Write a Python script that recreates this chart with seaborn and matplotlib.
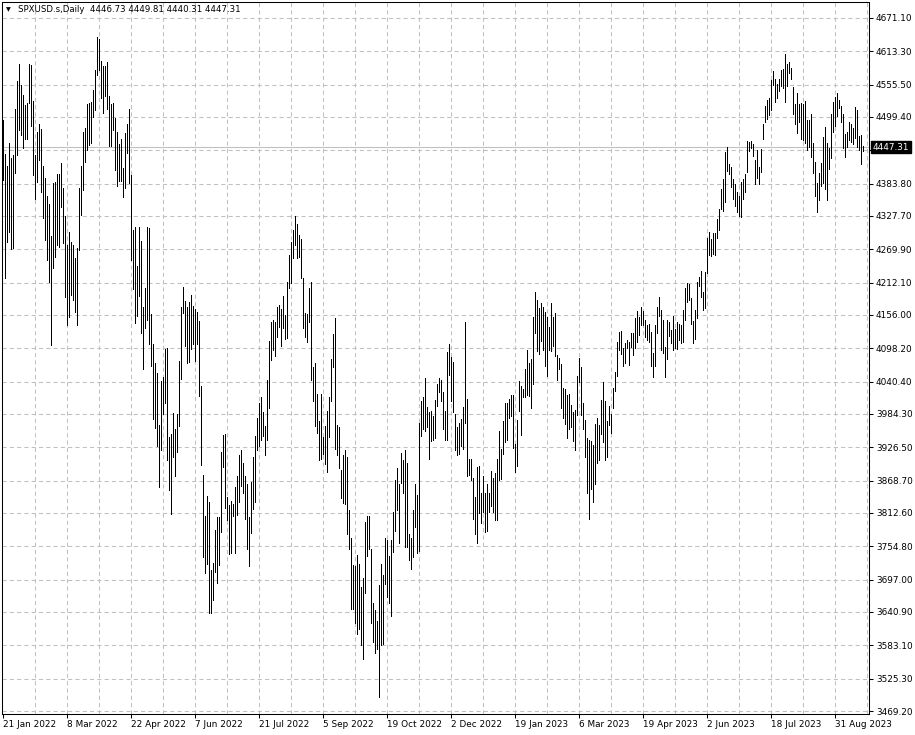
import matplotlib
matplotlib.use("Agg")
import matplotlib.pyplot as plt
import matplotlib.transforms as mtransforms
import seaborn as sns
import numpy as np

# header of the chart window
symbol = "SPXUSD.s,Daily"
last_ohlc = [4446.73, 4449.81, 4440.31, 4447.31]

# daily bar highs / lows (one per trading day)
highs = [
    4495, 4435, 4414, 4454, 4428, 4433, 4514, 4561, 4592, 4555, 4538, 4520, 4523, 4591, 4589, 4527,
    4433, 4474, 4488, 4479, 4414, 4393, 4362, 4348, 4293, 4385, 4387, 4401, 4401, 4419, 4376, 4327,
    4277, 4300, 4283, 4277, 4254, 4272, 4376, 4414, 4473, 4480, 4522, 4523, 4526, 4546, 4581, 4638,
    4634, 4597, 4588, 4588, 4594, 4535, 4522, 4524, 4497, 4473, 4453, 4461, 4411, 4472, 4487, 4513,
    4398, 4303, 4309, 4241, 4309, 4285, 4170, 4202, 4309, 4307, 4158, 4105, 4072, 4056, 3966, 4041,
    4048, 4097, 4099, 3944, 3950, 3986, 3958, 3984, 4076, 4170, 4204, 4181, 4169, 4179, 4190, 4171,
    4167, 4162, 4146, 4032, 3878, 3807, 3842, 3832, 3713, 3726, 3783, 3806, 3806, 3919, 3948, 3950,
    3841, 3826, 3834, 3828, 3857, 3876, 3913, 3921, 3900, 3877, 3863, 3806, 3867, 3909, 3946, 3977,
    4004, 4014, 3988, 3963, 4043, 4111, 4143, 4147, 4143, 4170, 4173, 4166, 4189, 4156, 4214, 4260,
    4283, 4303, 4328, 4314, 4295, 4287, 4221, 4160, 4158, 4202, 4214, 4065, 4073, 4019, 3973, 4019,
    3944, 3963, 3990, 4013, 4079, 4123, 4150, 3965, 3961, 3887, 3913, 3922, 3910, 3818, 3770, 3722,
    3721, 3740, 3724, 3684, 3699, 3797, 3807, 3807, 3751, 3656, 3644, 3626, 3688, 3724, 3705, 3769,
    3766, 3738, 3765, 3815, 3869, 3890, 3863, 3917, 3904, 3922, 3899, 3776, 3770, 3818, 3863, 3844,
    3969, 4006, 4013, 4046, 3996, 3987, 3990, 3980, 4009, 4036, 4046, 4043, 4023, 3990, 4092, 4106,
    4084, 4075, 3985, 3962, 3969, 3975, 3996, 4143, 4011, 3907, 3906, 3873, 3841, 3893, 3894, 3848,
    3877, 3848, 3863, 3848, 3886, 3874, 3882, 3907, 3954, 3923, 3973, 4003, 4004, 4011, 4017, 4017,
    3932, 3974, 4042, 4033, 4027, 4062, 4095, 4073, 4079, 4153, 4196, 4182, 4168, 4176, 4170, 4162,
    4152, 4136, 4176, 4152, 4160, 4087, 4081, 4071, 4029, 4027, 4017, 4019, 4000, 3987, 3992, 4050,
    4082, 4065, 4004, 3974, 3942, 3939, 3938, 3930, 3967, 3977, 3965, 4009, 4039, 4007, 3972, 3999,
    3985, 4030, 4057, 4110, 4127, 4128, 4099, 4108, 4112, 4110, 4125, 4125, 4150, 4163, 4152, 4169,
    4163, 4148, 4138, 4140, 4126, 4090, 4138, 4170, 4187, 4165, 4148, 4100, 4147, 4143, 4130, 4154,
    4132, 4143, 4141, 4138, 4164, 4202, 4212, 4210, 4186, 4145, 4165, 4213, 4222, 4232, 4195, 4231,
    4290, 4300, 4288, 4299, 4298, 4322, 4340, 4375, 4391, 4439, 4448, 4418, 4412, 4392, 4384, 4370,
    4362, 4386, 4392, 4400, 4458, 4456, 4458, 4452, 4424, 4442, 4412, 4443, 4488, 4518, 4528, 4533,
    4563, 4579, 4566, 4556, 4565, 4581, 4582, 4608, 4591, 4595, 4585, 4552, 4522, 4541, 4522, 4524,
    4522, 4527, 4494, 4494, 4504, 4454, 4421, 4385, 4402, 4420, 4465, 4482, 4454, 4445, 4504, 4525,
    4534, 4541, 4529, 4518, 4505, 4470, 4473, 4490, 4488, 4480, 4517, 4512, 4466, 4468, 4449.81,
]
lows = [
    4390, 4221, 4283, 4300, 4270, 4272, 4402, 4433, 4477, 4468, 4445, 4462, 4462, 4523, 4483, 4399,
    4358, 4387, 4425, 4370, 4324, 4286, 4251, 4214, 4104, 4237, 4257, 4277, 4274, 4344, 4280, 4188,
    4139, 4153, 4191, 4182, 4162, 4139, 4269, 4329, 4373, 4422, 4442, 4451, 4454, 4500, 4512, 4572,
    4581, 4532, 4507, 4535, 4513, 4449, 4449, 4476, 4408, 4380, 4388, 4388, 4361, 4377, 4437, 4385,
    4252, 4201, 4142, 4155, 4189, 4124, 4062, 4134, 4148, 4105, 4068, 3975, 3960, 3929, 3858, 3921,
    3985, 4004, 3905, 3853, 3810, 3909, 3876, 3918, 3963, 4045, 4159, 4103, 4072, 4074, 4097, 4105,
    4077, 4106, 4016, 3896, 3736, 3708, 3724, 3640, 3639, 3662, 3711, 3692, 3722, 3780, 3893, 3822,
    3800, 3741, 3744, 3807, 3744, 3809, 3832, 3859, 3848, 3803, 3751, 3721, 3778, 3819, 3832, 3921,
    3928, 3940, 3946, 3913, 3939, 3994, 4078, 4095, 4085, 4118, 4135, 4102, 4133, 4114, 4116, 4202,
    4211, 4254, 4277, 4254, 4257, 4220, 4133, 4117, 4110, 4143, 4044, 4007, 3963, 3952, 3904, 3906,
    3915, 3898, 3884, 3944, 4006, 4065, 3923, 3913, 3890, 3838, 3830, 3828, 3777, 3750, 3646, 3646,
    3622, 3603, 3611, 3584, 3560, 3674, 3738, 3750, 3621, 3589, 3569, 3576, 3493, 3584, 3585, 3689,
    3667, 3657, 3634, 3745, 3782, 3817, 3760, 3865, 3847, 3754, 3753, 3731, 3715, 3736, 3788, 3744,
    3747, 3946, 3958, 3955, 3961, 3907, 3938, 3940, 3942, 3998, 4023, 4006, 3959, 3940, 3940, 4052,
    4006, 3987, 3921, 3913, 3915, 3928, 3923, 3968, 3877, 3878, 3869, 3802, 3776, 3761, 3812, 3796,
    3815, 3780, 3782, 3815, 3824, 3815, 3800, 3800, 3870, 3871, 3915, 3935, 3940, 3978, 3981, 3926,
    3884, 3894, 3990, 3948, 4013, 4013, 4017, 4015, 3994, 4037, 4124, 4094, 4088, 4111, 4096, 4067,
    4050, 4095, 4094, 4102, 4085, 4044, 4063, 3994, 3978, 3967, 3942, 3959, 3961, 3938, 3921, 3983,
    4040, 3983, 3958, 3909, 3847, 3803, 3854, 3832, 3863, 3900, 3905, 3950, 3936, 3904, 3909, 3965,
    3951, 3995, 4025, 4050, 4095, 4088, 4068, 4072, 4098, 4070, 4100, 4086, 4098, 4110, 4122, 4138,
    4138, 4118, 4112, 4110, 4068, 4049, 4068, 4125, 4155, 4096, 4090, 4048, 4080, 4120, 4108, 4096,
    4098, 4097, 4112, 4108, 4110, 4148, 4178, 4182, 4140, 4108, 4114, 4150, 4206, 4188, 4164, 4168,
    4228, 4260, 4258, 4262, 4260, 4290, 4303, 4340, 4336, 4352, 4406, 4400, 4378, 4358, 4345, 4334,
    4327, 4326, 4358, 4370, 4404, 4440, 4446, 4432, 4384, 4394, 4384, 4404, 4462, 4490, 4496, 4503,
    4512, 4555, 4525, 4533, 4544, 4553, 4550, 4526, 4553, 4575, 4566, 4504, 4488, 4472, 4490, 4462,
    4460, 4454, 4442, 4447, 4430, 4402, 4362, 4335, 4356, 4380, 4385, 4374, 4356, 4410, 4428, 4473,
    4484, 4501, 4515, 4490, 4446, 4430, 4448, 4460, 4456, 4452, 4463, 4447, 4442, 4418, 4440.31,
]

# time axis labels (one every 32 bars) and price scale levels
date_labels = ["21 Jan 2022", "8 Mar 2022", "22 Apr 2022", "7 Jun 2022", "21 Jul 2022",
               "5 Sep 2022", "19 Oct 2022", "2 Dec 2022", "19 Jan 2023", "6 Mar 2023",
               "19 Apr 2023", "2 Jun 2023", "18 Jul 2023", "31 Aug 2023"]
price_levels = [3469.20, 3525.30, 3583.10, 3640.90, 3697.00, 3754.80, 3812.60, 3868.70,
                3926.50, 3984.30, 4040.40, 4098.20, 4156.00, 4212.10, 4269.90, 4327.70,
                4383.80, 4441.60, 4499.40, 4555.50, 4613.30, 4671.10]

assert len(highs) == len(lows)

sns.set_style("white")
plt.rcParams['font.family'] = ['DejaVu Sans']
FS = 6.4
GRID = '#c0c0c0'

fig = plt.figure(figsize=(9.15, 7.35), dpi=100)
ax = fig.add_axes([2 / 915, 21 / 735, 867 / 915, 712 / 735])

n = len(highs)
x = np.arange(n)
step = 32

# grid first, bars on top
for lv in price_levels:
    ax.axhline(lv, color=GRID, lw=0.75, dashes=(4, 3), zorder=0)
for gx in range(16, n + 3, 16):
    ax.axvline(gx, color=GRID, lw=0.75, dashes=(4, 3), zorder=0)

close = last_ohlc[3]
ax.axhline(close, color='#c0c0c0', lw=0.75, zorder=1)

# 1px high-low bars
ax.vlines(x, lows, highs, colors='black', linewidth=0.6, antialiased=False, zorder=2)

ax.set_xlim(-0.65, 432.85)
ax.set_ylim(3464.0, 4698.8)

# price scale on the right
ax.yaxis.tick_right()
ax.set_yticks(price_levels)
ax.set_yticklabels(["" if abs(v - close) < 20 else f"{v:.2f}" for v in price_levels])
ax.tick_params(axis='y', direction='out', length=3, width=0.75, pad=2,
               labelsize=FS, colors='black', right=True, left=False)

# time scale
ticks = list(range(0, step * len(date_labels), step))
ax.set_xticks(ticks)
ax.set_xticklabels(date_labels, ha='left')
ax.tick_params(axis='x', direction='out', length=3, width=0.75, pad=1.5,
               labelsize=FS, colors='black', bottom=True)

for sp in ax.spines.values():
    sp.set_visible(True)
    sp.set_color('black')
    sp.set_linewidth(0.75)

# current price tag
trans = mtransforms.blended_transform_factory(ax.transAxes, ax.transData)
ax.text(1.0 + 4 / 867, close, f"{close:.2f}", transform=trans, ha='left', va='center',
        color='white', fontsize=FS, clip_on=False,
        bbox=dict(boxstyle='square,pad=0.18', fc='black', ec='black'))

# window header
fig.text(6 / 915, 1 - 10 / 735, "\u25bc", fontsize=4.5, va='center', ha='left', color='black')
header = symbol + "  " + " ".join(f"{v:.2f}" for v in last_ohlc)
fig.text(18 / 915, 1 - 10 / 735, header, fontsize=6.2, va='center', ha='left', color='black')

fig.savefig("out.png", dpi=100, facecolor='white')
